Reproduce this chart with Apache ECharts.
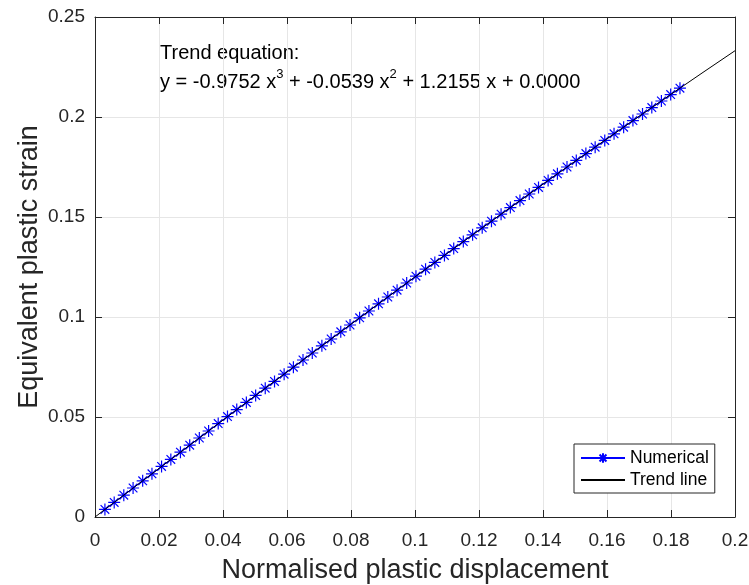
<!DOCTYPE html>
<html>
<head>
<meta charset="utf-8">
<script src="https://cdn.jsdelivr.net/npm/echarts@6/dist/echarts.min.js"></script>
<style>html,body{margin:0;padding:0;background:#fff}#c{width:749px;height:585px}</style>
</head>
<body>
<div id="c"></div>
<script>
// Numerical points (normalised plastic displacement, equivalent plastic strain)
var numX = [0.0031,0.0060,0.0090,0.0119,0.0149,0.0178,0.0208,0.0237,0.0267,0.0296,
0.0326,0.0355,0.0385,0.0414,0.0443,0.0473,0.0502,0.0532,0.0561,0.0591,
0.0620,0.0650,0.0679,0.0709,0.0738,0.0768,0.0797,0.0827,0.0856,0.0886,
0.0915,0.0944,0.0974,0.1003,0.1033,0.1062,0.1092,0.1121,0.1151,0.1180,
0.1210,0.1239,0.1269,0.1298,0.1328,0.1357,0.1386,0.1416,0.1445,0.1475,
0.1504,0.1534,0.1563,0.1593,0.1622,0.1652,0.1681,0.1711,0.1740,0.1770,
0.1799,0.1828];
var numY = [0.0038,0.0073,0.0109,0.0145,0.0181,0.0216,0.0253,0.0288,0.0324,0.0359,
0.0395,0.0430,0.0467,0.0502,0.0537,0.0573,0.0608,0.0644,0.0678,0.0714,
0.0749,0.0785,0.0820,0.0856,0.0890,0.0926,0.0960,0.0996,0.1030,0.1066,
0.1100,0.1134,0.1170,0.1204,0.1239,0.1273,0.1308,0.1342,0.1377,0.1411,
0.1446,0.1479,0.1514,0.1547,0.1582,0.1615,0.1648,0.1683,0.1716,0.1750,
0.1783,0.1817,0.1849,0.1883,0.1916,0.1949,0.1982,0.2015,0.2047,0.2080,
0.2112,0.2144];
// Trend line samples
var trendX = [0,0.01,0.02,0.03,0.04,0.05,0.06,0.07,0.08,0.09,0.10,0.11,0.12,0.13,0.14,0.15,0.16,0.17,0.18,0.19,0.20];
var trendY = [0,0.01215,0.02428,0.03639,0.04847,0.06052,0.07253,0.08449,0.09640,0.10825,0.12004,
0.13176,0.14340,0.15496,0.16644,0.17782,0.18911,0.20029,0.21136,0.22231,0.23314];
var seriesNames = ['Numerical','Trend line'];
var xTitle = 'Normalised plastic displacement';
var yTitle = 'Equivalent plastic strain';
var annot1 = 'Trend equation:';
var annot2 = '{a|y = -0.9752 x}{s|3}{a| + -0.0539 x}{s|2}{a| + 1.2155 x + 0.0000}';

var FONT = 'Liberation Sans, Arial, sans-serif';
var AX = '#262626';
var chart = echarts.init(document.getElementById('c'));
function zip(a,b){return a.map(function(v,i){return [v,b[i]];});}
var star = 'path://M0,-1L0,1M-1,0L1,0M-0.72,-0.72L0.72,0.72M-0.72,0.72L0.72,-0.72';
var common = {min:0, axisLine:{show:true,onZero:false,lineStyle:{color:AX,width:1}},
  axisTick:{show:true,inside:true,length:7,lineStyle:{color:AX}}};
chart.setOption({
  animation:false,
  backgroundColor:'#fff',
  grid:{left:95,right:14,top:17,bottom:68,containLabel:false,outerBoundsMode:'none'},
  xAxis:[
    Object.assign({type:'value',max:0.2,interval:0.02,position:'bottom',
      name:xTitle,nameLocation:'middle',nameGap:40,nameMoveOverlap:false,
      nameTextStyle:{fontFamily:FONT,fontSize:27,color:AX},
      axisLabel:{fontFamily:FONT,fontSize:19,color:AX,margin:14},
      splitLine:{show:true,lineStyle:{color:'#e6e6e6',width:1}}}, common),
    Object.assign({type:'value',max:0.2,interval:0.02,position:'top',
      axisLabel:{show:false},splitLine:{show:false}}, common)
  ],
  yAxis:[
    Object.assign({type:'value',max:0.25,interval:0.05,position:'left',
      name:yTitle,nameLocation:'middle',nameGap:52,nameMoveOverlap:false,
      nameTextStyle:{fontFamily:FONT,fontSize:27,color:AX},
      axisLabel:{fontFamily:FONT,fontSize:19,color:AX,margin:10},
      splitLine:{show:true,lineStyle:{color:'#e6e6e6',width:1}}}, common),
    Object.assign({type:'value',max:0.25,interval:0.05,position:'right',
      axisLabel:{show:false},splitLine:{show:false}}, common)
  ],
  legend:{
    orient:'vertical',left:574,top:444,
    backgroundColor:'#fff',borderColor:AX,borderWidth:1,borderRadius:0,
    padding:[5,6,4,6],itemGap:4,itemWidth:44,itemHeight:12,
    textStyle:{fontFamily:FONT,fontSize:17.5,color:'#000'},
    data:[{name:seriesNames[0]},{name:seriesNames[1],itemStyle:{opacity:0}}]
  },
  series:[
    {name:seriesNames[0],type:'line',data:zip(numX,numY),
      symbol:star,symbolSize:12,showAllSymbol:true,
      lineStyle:{color:'#0000ff',width:1},
      itemStyle:{color:'rgba(0,0,255,0)',borderColor:'#0000ff',borderWidth:1.2},
      z:2},
    {name:seriesNames[1],type:'line',data:zip(trendX,trendY),
      symbol:'none',smooth:false,
      lineStyle:{color:'#000',width:1},itemStyle:{color:'#000'},z:3}
  ],
  graphic:[
    {type:'text',left:160,top:43,style:{text:annot1,fontFamily:FONT,fontSize:20,fill:'#000'}},
    {type:'text',left:160,top:68,style:{text:annot2,fontFamily:FONT,fontSize:20,fill:'#000',
      rich:{a:{fontFamily:FONT,fontSize:20,lineHeight:24,verticalAlign:'bottom'},
            s:{fontFamily:FONT,fontSize:13,lineHeight:24,verticalAlign:'top',padding:[0,0,0,0]}}}}
  ]
});
</script>
</body>
</html>
